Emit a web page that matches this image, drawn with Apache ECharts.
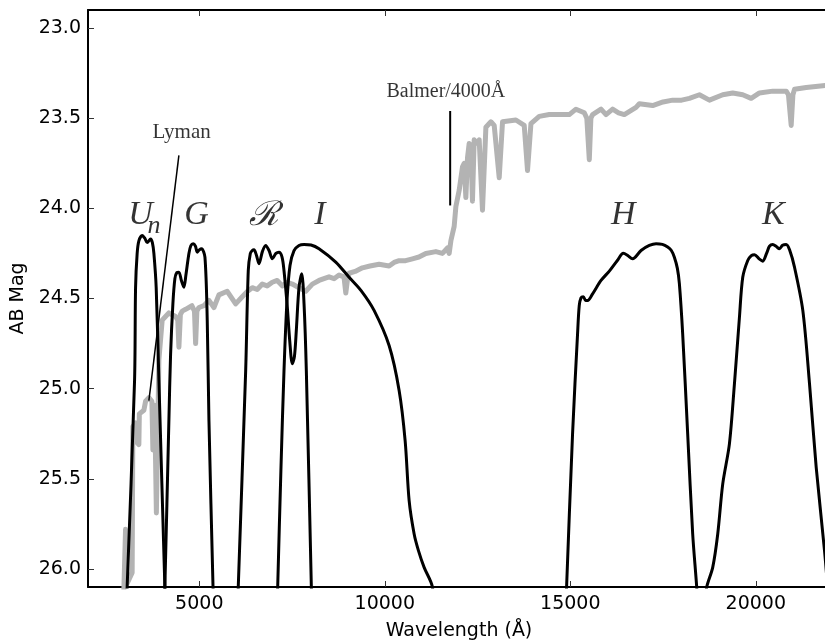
<!DOCTYPE html>
<html>
<head>
<meta charset="utf-8">
<script src="https://cdn.jsdelivr.net/npm/echarts@6/dist/echarts.min.js"></script>
<style>
  html, body { margin: 0; padding: 0; background: #fff; }
  #chart { width: 825px; height: 644px; }
</style>
</head>
<body>
<div id="chart"></div>
<script>
// tick values
const xTicks = [5000, 10000, 15000, 20000];
const yTicks = [23.0, 23.5, 24.0, 24.5, 25.0, 25.5, 26.0];

// galaxy spectrum (wavelength, AB mag)
const spectrum = [
  [2966, 26.12], [3012, 25.78], [3047, 25.77], [3055, 26.08], [3190, 26.02], [3209, 25.21],
  [3282, 25.19], [3290, 25.29], [3371, 25.31], [3384, 25.14], [3506, 25.12], [3552, 25.07],
  [3641, 25.05], [3722, 25.07], [3749, 25.34], [3776, 25.09], [3800, 25.12], [3843, 25.69],
  [3911, 24.84], [4000, 24.62], [4091, 24.60], [4180, 24.58], [4361, 24.60], [4420, 24.62],
  [4450, 24.77], [4490, 24.59], [4539, 24.57], [4631, 24.56], [4801, 24.54], [4870, 24.57],
  [4901, 24.75], [4935, 24.57], [4990, 24.55], [5125, 24.54], [5260, 24.51], [5395, 24.55],
  [5529, 24.48], [5753, 24.46], [5799, 24.47], [5980, 24.53], [6158, 24.49], [6300, 24.46],
  [6428, 24.44], [6560, 24.45], [6698, 24.42], [6830, 24.43], [6967, 24.41], [7100, 24.40],
  [7237, 24.43], [7370, 24.41], [7507, 24.42], [7688, 24.44], [7869, 24.46], [8047, 24.42],
  [8227, 24.40], [8360, 24.39], [8497, 24.38], [8632, 24.39], [8767, 24.37], [8900, 24.38],
  [8948, 24.47], [8991, 24.40], [9037, 24.36], [9200, 24.35], [9396, 24.33], [9600, 24.32],
  [9846, 24.31], [10116, 24.32], [10250, 24.30], [10386, 24.29], [10560, 24.29], [10745, 24.28],
  [10920, 24.27], [11106, 24.25], [11376, 24.24], [11554, 24.25], [11689, 24.22], [11735, 24.25],
  [11781, 24.18], [11870, 24.10], [11916, 23.99], [12005, 23.90], [12094, 23.77], [12140, 23.75],
  [12185, 23.94], [12229, 23.72], [12274, 23.64], [12320, 23.66], [12363, 23.96], [12409, 23.62],
  [12455, 23.61], [12498, 23.64], [12544, 23.62], [12633, 24.01], [12725, 23.55], [12860, 23.52],
  [12949, 23.54], [13084, 23.83], [13173, 23.52], [13534, 23.51], [13758, 23.54], [13847, 23.79],
  [13939, 23.53], [14163, 23.49], [14433, 23.48], [14703, 23.48], [14972, 23.48], [15153, 23.45],
  [15377, 23.47], [15445, 23.50], [15512, 23.73], [15555, 23.50], [15601, 23.48], [15828, 23.45],
  [15963, 23.48], [16141, 23.45], [16300, 23.47], [16456, 23.48], [16772, 23.44], [16861, 23.42],
  [17220, 23.43], [17500, 23.41], [17760, 23.40], [18000, 23.40], [18210, 23.39], [18480, 23.37],
  [18750, 23.40], [19109, 23.37], [19378, 23.36], [19648, 23.37], [19875, 23.39], [20099, 23.36],
  [20458, 23.35], [20819, 23.35], [20880, 23.37], [20954, 23.54], [21000, 23.37], [21043, 23.34],
  [21359, 23.33], [21806, 23.32], [22000, 23.315]
];

// filter curves scaled onto the mag axis
const filterUn = [
  [3040, 26.15], [3055, 26.10], [3255, 24.955], [3282, 24.44], [3325, 24.25], [3371, 24.18],
  [3460, 24.15], [3530, 24.165], [3595, 24.19], [3687, 24.17], [3735, 24.19], [3776, 24.25],
  [3838, 24.44], [3911, 24.955], [4072, 26.10], [4085, 26.17]
];
const filterG = [
  [4054, 26.17], [4072, 26.10], [4180, 25.18], [4226, 24.81], [4288, 24.53], [4342, 24.39],
  [4396, 24.356], [4450, 24.354], [4517, 24.40], [4585, 24.437], [4639, 24.37], [4720, 24.25],
  [4774, 24.206], [4836, 24.196], [4896, 24.21], [4944, 24.243], [5000, 24.23], [5063, 24.224],
  [5152, 24.271], [5214, 24.622], [5260, 25.177], [5370, 26.10], [5380, 26.17]
];
const filterR = [
  [6042, 26.17], [6050, 26.10], [6250, 24.90], [6320, 24.345], [6375, 24.25], [6428, 24.234],
  [6474, 24.23], [6540, 24.26], [6609, 24.307], [6700, 24.24], [6789, 24.206], [6880, 24.234],
  [6967, 24.28], [7065, 24.25], [7148, 24.243], [7230, 24.27], [7283, 24.345], [7372, 24.548],
  [7437, 24.733], [7507, 24.862], [7565, 24.82], [7615, 24.677], [7688, 24.437], [7761, 24.363],
  [7823, 24.529], [7885, 24.90], [8020, 26.10], [8028, 26.17]
];
const filterI = [
  [7108, 26.17], [7113, 26.10], [7200, 25.45], [7283, 24.90], [7364, 24.511], [7445, 24.317],
  [7553, 24.234], [7688, 24.206], [7823, 24.20], [8012, 24.203], [8227, 24.224], [8678, 24.298],
  [9037, 24.382], [9361, 24.456], [9711, 24.566], [10116, 24.761], [10386, 25.01], [10548, 25.288],
  [10656, 25.621], [10791, 25.806], [10907, 25.898], [11060, 25.991], [11284, 26.10], [11300, 26.17]
];
const filterH = [
  [14891, 26.17], [14900, 26.10], [15061, 25.25], [15196, 24.695], [15241, 24.54], [15288, 24.496],
  [15350, 24.49], [15410, 24.51], [15466, 24.511], [15601, 24.474], [15828, 24.40], [16052, 24.348],
  [16268, 24.289], [16429, 24.249], [16540, 24.26], [16680, 24.28], [16907, 24.234], [17130, 24.206],
  [17312, 24.196], [17482, 24.20], [17625, 24.215], [17724, 24.234], [17805, 24.271], [17886, 24.333],
  [17940, 24.418], [18029, 24.696], [18164, 25.251], [18299, 25.806], [18407, 26.10], [18420, 26.17]
];
const filterK = [
  [18655, 26.17], [18677, 26.10], [18839, 25.991], [18974, 25.806], [19109, 25.528], [19289, 25.306],
  [19424, 24.973], [19559, 24.604], [19648, 24.382], [19783, 24.289], [19880, 24.262], [19964, 24.257],
  [20090, 24.28], [20188, 24.293], [20290, 24.25], [20370, 24.21], [20458, 24.20], [20545, 24.21],
  [20638, 24.224], [20720, 24.205], [20819, 24.20], [20910, 24.23], [21043, 24.326], [21267, 24.566],
  [21448, 24.973], [21628, 25.436], [21852, 25.898], [21933, 26.10], [21950, 26.17]
];

// annotation lines
const lymanLine = [[4450, 23.706], [3641, 25.066]];
const balmerLine = [[11762, 23.46], [11762, 23.984]];

// filter names and where they sit
const filterNames = ['U', 'G', '\u211B', 'I', 'H', 'K'];
const filterNameWave = [3417, 4922, 6744, 8254, 16429, 20476];
const filterNameMag = [24.04, 24.04, 24.045, 24.04, 24.04, 24.04];
const subscriptN = [3776, 24.10];

const notes = ['Lyman', 'Balmer/4000\u00C5'];
const noteWave = [4523, 11646];
const noteMag = [23.579, 23.355];

const chart = echarts.init(document.getElementById('chart'));

function filterSeries(data) {
  return {
    type: 'line',
    data: data,
    showSymbol: false,
    symbol: 'none',
    smooth: 0.3,
    lineStyle: { color: '#000', width: 3, cap: 'round', join: 'round' },
    z: 3,
    silent: true
  };
}

const nameData = filterNames.map((t, i) => ({
  value: [filterNameWave[i], filterNameMag[i]],
  label: { formatter: t }
}));
nameData.push({
  value: subscriptN,
  label: { formatter: 'n', fontSize: 26 }
});

const noteData = notes.map((t, i) => ({
  value: [noteWave[i], noteMag[i]],
  label: {
    formatter: t,
    fontSize: i === 0 ? 21 : 20,
    backgroundColor: i === 0 ? '#fff' : 'transparent'
  }
}));

const axisFont = { fontFamily: 'DejaVu Sans', fontSize: 19, color: '#000' };

const option = {
  animation: false,
  backgroundColor: '#fff',
  grid: { left: 88, top: 10, right: -5, bottom: 57, containLabel: false, outerBoundsMode: 'none' },
  xAxis: [
    {
      type: 'value',
      min: 2000,
      max: 22000,
      position: 'bottom',
      name: 'Wavelength (\u00C5)',
      nameLocation: 'middle',
      nameGap: 35,
      nameTextStyle: axisFont,
      axisLine: { show: true, onZero: false, lineStyle: { color: '#000', width: 2 } },
      axisTick: { show: true, inside: true, length: 6, customValues: xTicks, lineStyle: { color: '#333', width: 1 } },
      axisLabel: Object.assign({ customValues: xTicks, margin: 8, formatter: v => String(v) }, axisFont),
      splitLine: { show: false }
    },
    {
      type: 'value',
      min: 2000,
      max: 22000,
      position: 'top',
      axisLine: { show: true, onZero: false, lineStyle: { color: '#000', width: 2 } },
      axisTick: { show: true, inside: true, length: 6, customValues: xTicks, lineStyle: { color: '#333', width: 1 } },
      axisLabel: { show: false },
      splitLine: { show: false }
    }
  ],
  yAxis: {
    type: 'value',
    min: 22.9,
    max: 26.1,
    inverse: true,
    name: 'AB Mag',
    nameLocation: 'middle',
    nameGap: 57,
    nameTextStyle: axisFont,
    axisLine: { show: true, onZero: false, lineStyle: { color: '#000', width: 2 } },
    axisTick: { show: true, inside: true, length: 6, customValues: yTicks, lineStyle: { color: '#333', width: 1 } },
    axisLabel: Object.assign({ customValues: yTicks, margin: 7, formatter: v => v.toFixed(1) }, axisFont),
    splitLine: { show: false }
  },
  series: [
    {
      type: 'line',
      data: spectrum,
      symbol: 'none',
      lineStyle: { color: '#b3b3b3', width: 5, cap: 'round', join: 'round' },
      z: 2,
      silent: true
    },
    filterSeries(filterUn),
    filterSeries(filterG),
    filterSeries(filterR),
    filterSeries(filterI),
    filterSeries(filterH),
    filterSeries(filterK),
    {
      type: 'line',
      data: lymanLine,
      symbol: 'none',
      lineStyle: { color: '#000', width: 1.5 },
      z: 4,
      silent: true
    },
    {
      type: 'line',
      data: balmerLine,
      symbol: 'none',
      lineStyle: { color: '#000', width: 2 },
      z: 4,
      silent: true
    },
    {
      type: 'scatter',
      data: nameData,
      symbolSize: 1,
      itemStyle: { color: 'rgba(0,0,0,0)' },
      label: {
        show: true,
        position: 'inside',
        fontFamily: 'Liberation Serif',
        fontStyle: 'italic',
        fontSize: 34,
        color: '#000',
        textBorderWidth: 0
      },
      z: 5,
      silent: true
    },
    {
      type: 'scatter',
      data: noteData,
      symbolSize: 1,
      itemStyle: { color: 'rgba(0,0,0,0)' },
      label: {
        show: true,
        position: 'inside',
        fontFamily: 'Liberation Serif',
        color: '#000',
        textBorderWidth: 0,
        padding: [1, 2]
      },
      z: 6,
      silent: true
    }
  ]
};

chart.setOption(option);
</script>
</body>
</html>
